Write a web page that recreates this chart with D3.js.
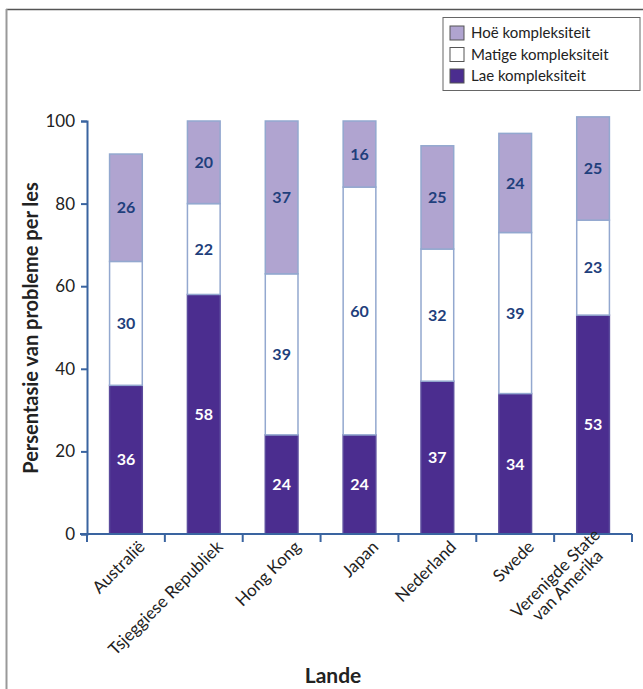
<!DOCTYPE html>
<html><head><meta charset="utf-8">
<script src="https://cdn.jsdelivr.net/npm/d3@7"></script>
<style>body{margin:0;background:#fff}svg{display:block}</style>
</head><body>
<svg id="chart" width="643" height="689"></svg>
<script>
const categories = ["Australië","Tsjeggiese Republiek","Hong Kong","Japan","Nederland","Swede","Verenigde State\nvan Amerika"];
const lae    = [36,58,24,24,37,34,53];
const matige = [30,22,39,60,32,39,23];
const hoe    = [26,20,37,16,25,24,25];
const seriesNames = ["Lae kompleksiteit","Matige kompleksiteit","Hoë kompleksiteit"];
const yTicks = [0,20,40,60,80,100];

const FONT = "Lato, 'Open Sans', sans-serif";
const colors = ["#4b2d8f","#ffffff","#b0a4d0"];
const labelColors = ["#ffffff","#1f3f7c","#1f3f7c"];
const axisColor = "#3a64a0";

const svg = d3.select("#chart");
// frame
svg.append("line").attr("x1",6).attr("x2",643).attr("y1",9.5).attr("y2",9.5).attr("stroke","#555").attr("stroke-width",1.5);
svg.append("line").attr("x1",6.5).attr("x2",6.5).attr("y1",9).attr("y2",689).attr("stroke","#999").attr("stroke-width",2);

const x = d3.scaleBand().domain(categories).range([87,632]).paddingInner(0.58).paddingOuter(0.29);
const y = d3.scaleLinear().domain([0,100]).range([534,121]);

const stackData = categories.map((c,i)=>({c, s0:lae[i], s1:matige[i], s2:hoe[i]}));
const stack = d3.stack().keys(["s0","s1","s2"])(stackData);

const g = svg.append("g");
stack.forEach((layer,k)=>{
  g.selectAll(null).data(layer).enter().append("rect")
    .attr("x",d=>x(d.data.c))
    .attr("y",d=>y(d[1]))
    .attr("width",x.bandwidth())
    .attr("height",d=>y(d[0])-y(d[1]))
    .attr("fill",colors[k])
    .attr("stroke", k===0 ? "#5a4a9c" : "#93a8cf")
    .attr("stroke-width",1.5);
  g.selectAll(null).data(layer).enter().append("text")
    .attr("x",d=>x(d.data.c)+x.bandwidth()/2)
    .attr("y",d=>y((d[0]+d[1])/2))
    .attr("dy","0.36em")
    .attr("text-anchor","middle")
    .attr("font-family",FONT).attr("font-weight","bold").attr("font-size",16)
    .attr("fill",labelColors[k])
    .text(d=>d[1]-d[0]);
});

// y axis
const yAxis = svg.append("g").attr("transform","translate(87,0)")
  .call(d3.axisLeft(y).tickValues(yTicks).tickSize(6).tickPadding(6));
yAxis.select(".domain").attr("stroke",axisColor).attr("stroke-width",2);
yAxis.selectAll(".tick line").attr("stroke",axisColor).attr("stroke-width",2);
yAxis.selectAll(".tick text").attr("font-family",FONT).attr("font-size",17).attr("fill","#222");

// x axis
const xAxisG = svg.append("g").attr("transform","translate(0,534)");
xAxisG.append("line").attr("x1",80).attr("x2",632).attr("y1",0).attr("y2",0).attr("stroke",axisColor).attr("stroke-width",2);
const step = x.step();
const tickXs = d3.range(categories.length+1).map(i=>87+i*step);
xAxisG.selectAll(null).data(tickXs).enter().append("line")
  .attr("x1",d=>d).attr("x2",d=>d).attr("y1",0).attr("y2",8)
  .attr("stroke",axisColor).attr("stroke-width",2);

// x labels
categories.forEach((c,i)=>{
  const cx = x(c)+x.bandwidth()/2;
  const lines = c.split("\n");
  const tg = svg.append("g").attr("transform",`translate(${cx+20},${548}) rotate(-45)`);
  const texts = lines.map((ln,j)=>tg.append("text")
    .attr("y", (j-(lines.length-1))*17)
    .attr("font-family",FONT).attr("font-size",17).attr("fill","#222")
    .attr("text-anchor","end").text(ln));
  if(lines.length>1){
    const lens = texts.map(t=>t.node().getComputedTextLength());
    const mx = d3.max(lens);
    texts.forEach((t,j)=>t.attr("x", -(mx-lens[j])/2));
  }
});

// axis titles
svg.append("text").attr("transform","translate(38,328) rotate(-90)")
  .attr("text-anchor","middle").attr("font-family",FONT).attr("font-weight","bold")
  .attr("font-size",20).attr("fill","#222").text("Persentasie van probleme per les");
svg.append("text").attr("x",333).attr("y",683).attr("text-anchor","middle")
  .attr("font-family",FONT).attr("font-weight","bold").attr("font-size",21).attr("fill","#222").text("Lande");

// legend
const lg = svg.append("g");
lg.append("rect").attr("x",443).attr("y",17.5).attr("width",197).attr("height",73)
  .attr("fill","#fff").attr("stroke","#666").attr("stroke-width",1);
const legendOrder = [2,1,0];
legendOrder.forEach((k,j)=>{
  const yy = 26 + j*21.5;
  lg.append("rect").attr("x",450).attr("y",yy).attr("width",14).attr("height",14)
    .attr("fill",colors[k]).attr("stroke","#555").attr("stroke-width",1);
  lg.append("text").attr("x",471).attr("y",yy+7).attr("dy","0.36em")
    .attr("font-family",FONT).attr("font-size",15).attr("fill","#222").text(seriesNames[k]);
});
</script>
</body></html>
